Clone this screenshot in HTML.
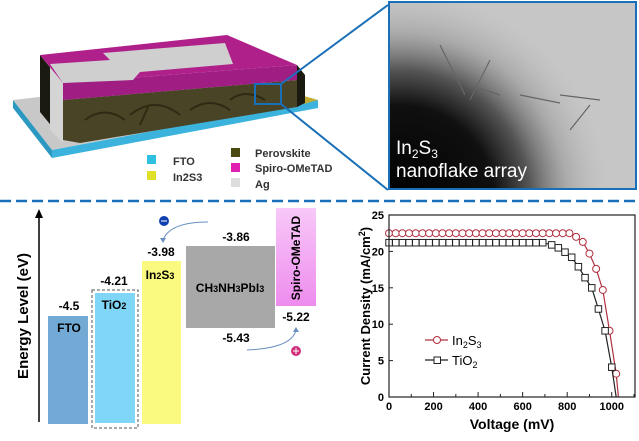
<!DOCTYPE html>
<html><head><meta charset="utf-8"><style>
body{margin:0;width:639px;height:436px;background:#fff;overflow:hidden;font-family:"Liberation Sans",Arial,sans-serif}
</style></head><body>
<svg width="639" height="436" xmlns="http://www.w3.org/2000/svg" font-family="Liberation Sans, Arial, sans-serif">
<defs>
<radialGradient id="dark" cx="400" cy="200" r="210" gradientUnits="userSpaceOnUse"><stop offset="0" stop-color="#000"/><stop offset="0.45" stop-color="#101010"/><stop offset="0.62" stop-color="#555"/><stop offset="0.8" stop-color="#9a9a9a" stop-opacity="0.6"/><stop offset="1" stop-color="#bbb" stop-opacity="0"/></radialGradient>
<linearGradient id="spiro" x1="0" y1="0" x2="0" y2="1"><stop offset="0" stop-color="#f8c8f8"/><stop offset="1" stop-color="#ee8cee"/></linearGradient>
</defs>
<!-- device -->
<polygon points="13,100 230,75 318,100 52,150" fill="#c8c8c8"/>
<polygon points="13,100 52,150 52,158 13,108" fill="#2a98c0"/>
<polygon points="52,150 318,100 318,108 52,158" fill="#3bb3dd"/>
<polygon points="80,143 300,105 318,100 300,95 80,138" fill="#c0ac30"/>
<polygon points="40,55 63,83 63,140 40,112" fill="#1a1a10"/>
<polygon points="63,100 297,80 297,107 80,143 63,140" fill="#4a4426"/>
<path d="M85,120 q20,-15 40,0 M130,115 q25,-20 50,0 M190,110 q20,-14 40,0 M140,125 l8,-18 M230,100 q15,-12 35,0" stroke="#2e2a14" stroke-width="2" fill="none"/>
<polygon points="297,65 305,75 305,103 297,107" fill="#1a1a10"/>
<polygon points="50,63 63,83 63,143 50,130" fill="#d4d4d4"/>
<polygon points="40,55 227,35 297,65 63,83" fill="#b0208a"/>
<polygon points="63,83 297,65 297,80 63,100" fill="#a01e84"/>
<polygon points="50,64 110,60 103,53 225,43 233,64 140,72 133,80 63,83" fill="#cfcfcf"/>
<rect x="255" y="84" width="26" height="20" fill="none" stroke="#1a70b8" stroke-width="2"/>
<line x1="281" y1="84" x2="388" y2="5" stroke="#1a70b8" stroke-width="2"/>
<line x1="281" y1="104" x2="388" y2="190" stroke="#1a70b8" stroke-width="2"/>
<rect x="147" y="155" width="9" height="9" fill="#2ec0e0"/>
<rect x="147" y="171" width="9" height="9" fill="#e0e02a"/>
<text x="173" y="165" font-size="11" font-weight="bold" fill="#333">FTO</text>
<text x="173" y="181" font-size="11" font-weight="bold" fill="#333">In2S3</text>
<rect x="231" y="148" width="9" height="9" fill="#4a4a10"/>
<rect x="231" y="163" width="9" height="9" fill="#e020b0"/>
<rect x="231" y="178" width="9" height="9" fill="#ddd"/>
<text x="255" y="157" font-size="11" font-weight="bold" fill="#333">Perovskite</text>
<text x="255" y="172" font-size="11" font-weight="bold" fill="#333">Spiro-OMeTAD</text>
<text x="255" y="188" font-size="11" font-weight="bold" fill="#333">Ag</text>
<!-- TEM -->
<rect x="389" y="2" width="247" height="187" fill="#c6c6c6"/>
<rect x="389" y="2" width="247" height="187" fill="url(#dark)"/>
<path d="M440,45 l25,50 M490,60 l-20,40 M520,95 l40,8 M560,95 l40,5 M570,130 l20,-25 M470,85 l30,10" stroke="#666" stroke-width="1.2" fill="none"/>
<rect x="389" y="2" width="247" height="187" fill="none" stroke="#1a70b8" stroke-width="2"/>
<text x="396" y="154" font-size="19" fill="#fff">In<tspan font-size="12" dy="4">2</tspan><tspan dy="-4">S</tspan><tspan font-size="12" dy="4">3</tspan></text>
<text x="396" y="177" font-size="19" fill="#fff">nanoflake array</text>
<line x1="0" y1="201" x2="639" y2="201" stroke="#1a70b8" stroke-width="2.5" stroke-dasharray="11,5"/>
<!-- energy -->
<line x1="39" y1="422" x2="39" y2="214" stroke="#000" stroke-width="1.5"/>
<polygon points="35,218 39,209 43,218" fill="#000"/>
<text transform="translate(28,316) rotate(-90)" text-anchor="middle" font-size="15" font-weight="bold">Energy Level (eV)</text>
<rect x="48" y="316" width="40" height="108" fill="#72aad6"/>
<rect x="92" y="290" width="46" height="138" fill="none" stroke="#555" stroke-dasharray="3,2"/>
<rect x="95" y="293" width="40" height="130" fill="#80d6f6"/>
<rect x="142" y="261" width="39" height="163" fill="#fafa80"/>
<rect x="186" y="246" width="89" height="82" fill="#a8a8a8"/>
<rect x="276" y="208" width="40" height="98" fill="url(#spiro)"/>
<g font-size="12" font-weight="bold" text-anchor="middle">
<text x="69" y="310">-4.5</text><text x="114" y="285">-4.21</text><text x="161" y="256">-3.98</text>
<text x="236" y="241">-3.86</text><text x="296" y="321">-5.22</text><text x="236" y="342">-5.43</text>
<text x="69" y="332">FTO</text><text x="114" y="309">TiO<tspan font-size="9">2</tspan></text><text x="160" y="279">In<tspan font-size="9">2</tspan>S<tspan font-size="9">3</tspan></text>
<text x="230" y="292">CH<tspan font-size="9">3</tspan>NH<tspan font-size="9">3</tspan>PbI<tspan font-size="9">3</tspan></text>
<text transform="translate(300,258) rotate(-90)" font-size="12">Spiro-OMeTAD</text>
</g>
<circle cx="164" cy="221" r="5" fill="#1040b0"/><line x1="161" y1="221" x2="167" y2="221" stroke="#fff"/>
<path d="M208,222 Q170,222 163,240" fill="none" stroke="#6a90c0"/><polygon points="160,238 163,243 166,238" fill="#6a90c0"/>
<circle cx="296" cy="351" r="5" fill="#d0307a"/><path d="M293,351h6M296,348v6" stroke="#fff"/>
<path d="M247,350 Q292,348 296,330" fill="none" stroke="#6a90c0"/><polygon points="293,332 296,327 299,332" fill="#6a90c0"/>
<!-- JV -->
<g id="jv"></g>
<rect x="389" y="215" width="246" height="182" fill="none" stroke="#222" stroke-width="1.2"/>
<text transform="translate(370,306) rotate(-90)" text-anchor="middle" font-size="13" font-weight="bold">Current Density (mA/cm<tspan font-size="9" dy="-5">2</tspan><tspan dy="5">)</tspan></text>
<text x="512" y="429" text-anchor="middle" font-size="14" font-weight="bold">Voltage (mV)</text>
<line x1="425" y1="340" x2="448" y2="340" stroke="#b03040" stroke-width="1.2"/><circle cx="437" cy="340" r="3.5" fill="#fff" stroke="#b03040"/>
<text x="452" y="345" font-size="13">In<tspan font-size="9" dy="3">2</tspan><tspan dy="-3">S</tspan><tspan font-size="9" dy="3">3</tspan></text>
<line x1="425" y1="360" x2="448" y2="360" stroke="#222" stroke-width="1.2"/><rect x="434" y="357" width="6.5" height="6.5" fill="#fff" stroke="#222"/>
<text x="452" y="365" font-size="13">TiO<tspan font-size="9" dy="3">2</tspan></text>
</svg>
<script>
const g=document.getElementById('jv'),NS='http://www.w3.org/2000/svg';
const X=v=>389+v*245/1100,Y=j=>397-j*7.28;
function el(t,a){const e=document.createElementNS(NS,t);for(const k in a)e.setAttribute(k,a[k]);g.appendChild(e);return e;}
for(let v=0;v<=1000;v+=200){const t=el('text',{x:X(v),y:410,'font-size':11,'font-weight':'bold','text-anchor':'middle'});t.textContent=v;}
for(let v=100;v<=1100;v+=100)el('line',{x1:X(v),y1:397,x2:X(v),y2:v%200?394:392,stroke:'#222'});
for(let j=0;j<=25;j+=5){const t=el('text',{x:384,y:Y(j)+4,'font-size':11,'font-weight':'bold','text-anchor':'end'});t.textContent=j;el('line',{x1:389,y1:Y(j),x2:393,y2:Y(j),stroke:'#222'});}
function series(pts,col,sq){el('polyline',{points:pts.map(p=>X(p[0])+','+Y(p[1])).join(' '),fill:'none',stroke:col,'stroke-width':1.2});
pts.forEach(p=>{if(p[1]<=0.5)return;if(sq)el('rect',{x:X(p[0])-3.2,y:Y(p[1])-3.2,width:6.5,height:6.5,fill:'#fff',stroke:col});else el('circle',{cx:X(p[0]),cy:Y(p[1]),r:3.5,fill:'#fff',stroke:col});});}
let a=[];for(let v=0;v<=810;v+=30)a.push([v,22.5]);a.push([840,22.0],[870,21.3],[900,19.7],[930,17.6],[960,14.7],[990,9.1],[1020,3.2],[1030,0]);
let b=[];for(let v=0;v<=700;v+=30)b.push([v,21.2]);b.push([730,20.9],[760,20.5],[790,19.9],[820,19.2],[850,17.9],[880,16.4],[910,15.0],[940,12.1],[970,9.1],[1000,4.1],[1020,0]);
series(a,'#b03040',false);series(b,'#222',true);
</script>
</body></html>
